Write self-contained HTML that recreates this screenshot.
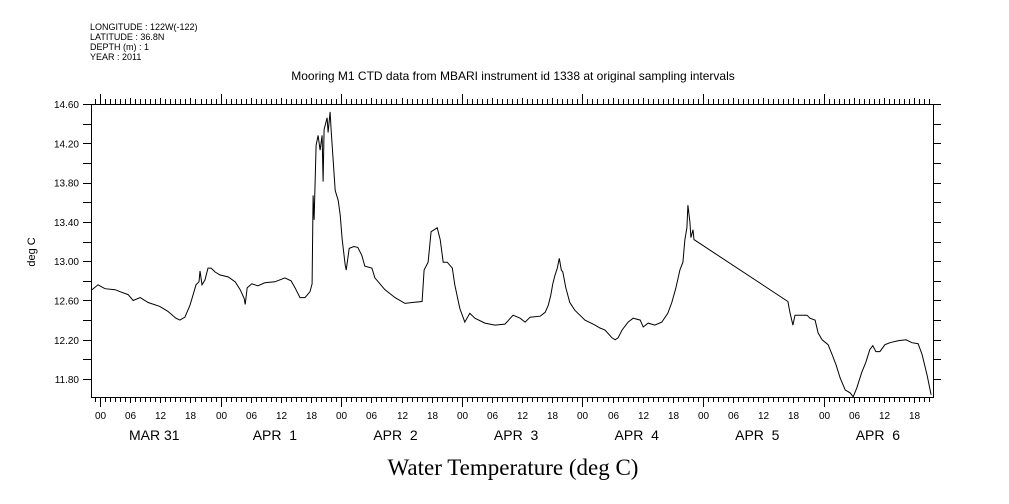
<!DOCTYPE html>
<html><head><meta charset="utf-8">
<style>
html,body{margin:0;padding:0;background:#fff;}
svg{display:block;font-family:"Liberation Sans",sans-serif;}
</style></head>
<body>
<svg id="chart" width="1009" height="504" viewBox="0 0 1009 504" xmlns="http://www.w3.org/2000/svg">
<g font-size="9" fill="#000">
<text x="90" y="30">LONGITUDE : 122W(-122)</text>
<text x="90" y="40">LATITUDE : 36.8N</text>
<text x="90" y="50">DEPTH (m) : 1</text>
<text x="90" y="60">YEAR : 2011</text>
</g>
<text x="513" y="80" font-size="12" text-anchor="middle">Mooring M1 CTD data from MBARI instrument id 1338 at original sampling intervals</text>
<text x="0" y="0" font-size="11" text-anchor="middle" transform="translate(35,252) rotate(-90)">deg C</text>
<text x="513" y="475" font-size="23" font-family="Liberation Serif, serif" text-anchor="middle">Water Temperature (deg C)</text>
<g id="axes"></g>
<path id="series" fill="none" stroke="#000" stroke-width="1"/>
</svg>
<script>
const hours=[-1.6,-0.4,1,3,4,5.6,6.6,8,9.6,11.9,13.5,15.1,15.9,16.9,17.9,18.3,19.1,19.7,19.9,20.3,20.9,21.5,22.1,22.9,23.9,25.5,26.9,27.9,28.7,28.9,29.3,30.2,31.4,32.8,34.8,36.8,38,38.8,39.8,40.8,41.8,42.2,42.4,42.6,43,43.4,43.8,44.2,44.4,44.6,45.2,45.4,45.8,46,46.8,47.4,47.8,48.2,48.8,49,49.6,50.5,51.3,52.1,52.7,54.1,54.7,56.7,58.7,60.7,62.1,64.1,64.5,65.3,65.9,67.1,67.7,68.3,69.1,70.1,70.6,71.6,72.6,73.6,74.6,76.6,78.6,80.6,82.2,83.6,84.6,85.6,87.6,88.6,89.2,89.7,90.1,90.5,91,91.4,91.8,92.1,92.7,93.5,94.5,95.5,96.5,98.5,99.5,100.5,101.9,102.5,103.1,103.9,105.1,106.1,107.5,108.1,109.1,110.4,111.8,113,113.8,114.6,115.4,116,116.4,116.8,117,117.4,117.6,118,118.2,136.9,137.3,137.9,138.3,139.3,140.7,141.3,142.3,142.9,143.7,144.9,145.7,146.5,147.3,148.3,149.3,149.9,150.6,151.6,152.4,153.2,153.8,154.4,155.2,156.2,157.2,158.8,160.4,161.6,162.8,163.6,164.6,165.4];
const temps=[12.71,12.76,12.72,12.71,12.69,12.66,12.60,12.63,12.58,12.54,12.49,12.42,12.40,12.43,12.55,12.62,12.76,12.79,12.90,12.76,12.81,12.93,12.93,12.89,12.86,12.84,12.79,12.71,12.62,12.56,12.73,12.77,12.75,12.78,12.79,12.83,12.80,12.73,12.63,12.63,12.69,12.77,13.67,13.42,14.18,14.28,14.13,14.28,13.81,14.34,14.46,14.31,14.52,14.34,13.72,13.62,13.47,13.22,12.96,12.91,13.13,13.15,13.14,13.06,12.95,12.93,12.83,12.71,12.63,12.57,12.58,12.59,12.91,12.99,13.30,13.34,13.22,12.99,12.99,12.93,12.76,12.52,12.38,12.47,12.42,12.37,12.35,12.36,12.45,12.42,12.38,12.43,12.44,12.48,12.55,12.65,12.77,12.85,12.93,13.03,12.91,12.89,12.73,12.58,12.50,12.45,12.40,12.35,12.32,12.30,12.22,12.20,12.22,12.30,12.38,12.42,12.40,12.33,12.37,12.35,12.38,12.47,12.58,12.73,12.91,12.99,13.22,13.34,13.57,13.40,13.24,13.32,13.22,12.59,12.48,12.35,12.45,12.45,12.45,12.42,12.40,12.27,12.20,12.15,12.05,11.94,11.81,11.69,11.66,11.62,11.71,11.87,11.97,12.10,12.14,12.08,12.08,12.15,12.17,12.19,12.20,12.17,12.16,12.05,11.84,11.64];
const yTicks=[14.6,14.2,13.8,13.4,13.0,12.6,12.2,11.8];
const hourLabels=["00","06","12","18"];
const dayLabels=["MAR 31","APR  1","APR  2","APR  3","APR  4","APR  5","APR  6"];

const L=91,R=933,T=104,B=397;
const X=h=>100+h*5.025;
const Y=t=>104+(14.6-t)*98.25;
const NS="http://www.w3.org/2000/svg";
const axes=document.getElementById('axes');
function line(x1,y1,x2,y2,name){const l=document.createElementNS(NS,'line');
l.setAttribute('x1',x1);l.setAttribute('y1',y1);l.setAttribute('x2',x2);l.setAttribute('y2',y2);
l.setAttribute('stroke','#000');l.setAttribute('stroke-width','1');


axes.appendChild(l);return l;}
function text(x,y,s,size,anchor,name){const t=document.createElementNS(NS,'text');
t.setAttribute('x',x);t.setAttribute('y',y);t.setAttribute('font-size',size);t.setAttribute('text-anchor',anchor);
t.textContent=s;t.style.whiteSpace='pre';


axes.appendChild(t);}
const frame=document.createElementNS(NS,'rect');
frame.setAttribute('x',L+0.5);frame.setAttribute('y',T+0.5);frame.setAttribute('width',R-L);frame.setAttribute('height',B-T);
frame.setAttribute('fill','none');frame.setAttribute('stroke','#000');


axes.appendChild(frame);
for(let v=14.6;v>11.61;v-=0.2){const y=Math.round(Y(v))+0.5;
line(L-8,y,L,y,'y-tick-left');line(R,y,R+8,y,'y-tick-right');}
yTicks.forEach(v=>text(L-12,Y(v)+4,v.toFixed(2),10,'end','y-tick-label'));
for(let h=-1;h<=165;h++){const x=Math.round(X(h))+0.5;const big=(h%24===0);const mid=(h%6===0);
const len=big?10:(mid?6:5);
line(x,B,x,B+len,'x-tick-bottom');line(x,T-len,x,T,'x-tick-top');
if(mid){text(x,B+22,hourLabels[(h/6)%4],10,'middle','x-hour-label');}}
dayLabels.forEach((d,i)=>text(X(i*24+12)-6,B+43,d,14,'middle','x-day-label'));
let d='';hours.forEach((h,i)=>{d+=(i?'L':'M')+X(h).toFixed(1)+' '+Y(temps[i]).toFixed(1);});
document.getElementById('series').setAttribute('d',d);
</script>
</body></html>
